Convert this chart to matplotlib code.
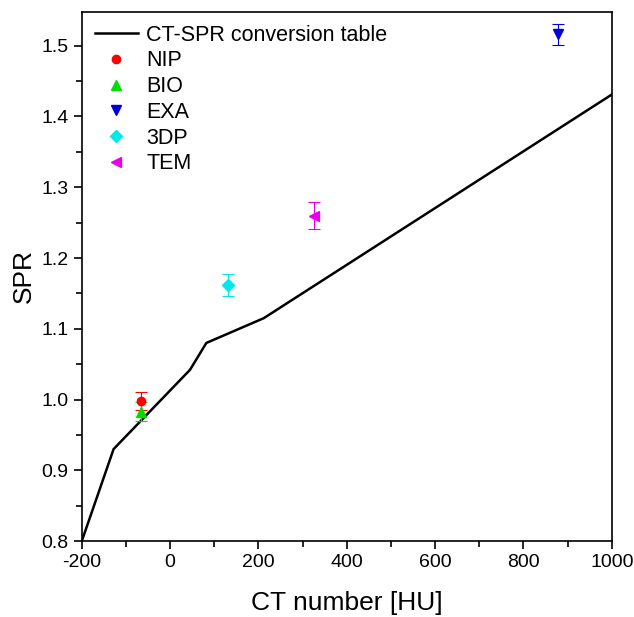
import numpy as np
import matplotlib.pyplot as plt
from matplotlib.ticker import MultipleLocator

plt.rcParams['font.family'] = ['Liberation Sans', 'DejaVu Sans']

# CT-SPR conversion table
ct_table = [-200, -128, 45, 82, 212, 1000]
spr_table = [0.80, 0.93, 1.042, 1.080, 1.115, 1.431]

# measured materials
names = ['NIP', 'BIO', 'EXA', '3DP', 'TEM']
ct_vals = [-67, -67, 878, 131, 326]
spr_vals = [0.998, 0.983, 1.516, 1.162, 1.260]
spr_err = [0.013, 0.013, 0.015, 0.015, 0.019]
colors = ['#ff0000', '#00dd00', '#0000dd', '#00e8e8', '#e800e8']
markers = ['o', '^', 'v', 'D', '<']
msizes = [6, 7, 7, 6, 7]

fig = plt.figure(figsize=(6.34, 6.17), dpi=100)
ax = fig.add_axes([0.129, 0.123, 0.836, 0.858])

ax.plot(ct_table, spr_table, color='black', lw=1.8, label='CT-SPR conversion table')
for i in range(len(names)):
    ax.errorbar(ct_vals[i], spr_vals[i], yerr=spr_err[i], fmt=markers[i], color=colors[i],
                ms=msizes[i], elinewidth=0.8, capsize=4, capthick=0.8, label=names[i],
                ecolor=colors[i])

ax.set_xlim(-200, 1000)
ax.set_ylim(0.8, 1.548)
ax.xaxis.set_minor_locator(MultipleLocator(100))
ax.yaxis.set_minor_locator(MultipleLocator(0.05))
ax.tick_params(which='both', direction='out', top=False, right=False, labelsize=14, width=1.2)
ax.tick_params(which='major', length=6)
ax.tick_params(which='minor', length=4)
ax.set_xticks(range(-200, 1001, 200))
ax.set_xticklabels([str(v) for v in range(-200, 1001, 200)])
ax.set_yticks(np.round(np.arange(0.8, 1.51, 0.1), 1))
ax.set_yticklabels(['%.1f' % v for v in np.arange(0.8, 1.51, 0.1)])
for s in ax.spines.values():
    s.set_linewidth(1.2)

ax.set_xlabel('CT number [HU]', fontsize=19, labelpad=14)
ax.set_ylabel('SPR', fontsize=19, labelpad=4)

labels = ['CT-SPR conversion table'] + names
new_handles = [plt.Line2D([], [], color='black', lw=1.8)]
for i in range(len(names)):
    new_handles.append(plt.Line2D([], [], ls='none', marker=markers[i], color=colors[i], ms=msizes[i]))
ax.legend(new_handles, labels, loc='upper left', frameon=False, fontsize=15.5,
          handlelength=2.0, handletextpad=0.4, borderaxespad=0.2, labelspacing=0.22)

fig.savefig('out.png', dpi=100)
